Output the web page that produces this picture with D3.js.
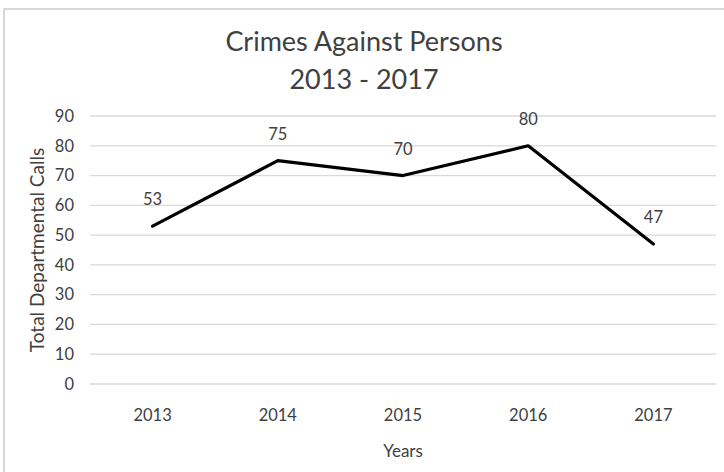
<!DOCTYPE html>
<html>
<head>
<meta charset="utf-8">
<script src="https://cdn.jsdelivr.net/npm/d3@7"></script>
<style>
  body { margin: 0; background: #fff; }
  svg { display: block; font-family: Lato, "Open Sans", sans-serif; }
</style>
</head>
<body>
<svg id="chart" width="724" height="472"></svg>
<script>
// chart data
var years = ["2013", "2014", "2015", "2016", "2017"];
var calls = [53, 75, 70, 80, 47];
var yTicks = [0, 10, 20, 30, 40, 50, 60, 70, 80, 90];
var titleLines = ["Crimes Against Persons", "2013 - 2017"];

var svg = d3.select("#chart");
// plot box (not "top": that name is taken by window.top)
var plotLeft = 90, plotRight = 716, plotTop = 116, plotBottom = 384;
var textColor = "#404040";

// outer frame (right and bottom run past the picture)
svg.append("rect")
  .attr("x", 4).attr("y", 9)
  .attr("width", 760).attr("height", 500)
  .attr("fill", "none")
  .attr("stroke", "#cfcfcf")
  .attr("stroke-width", 1.6);

var x = d3.scaleBand().domain(years).range([plotLeft, plotRight]);
var y = d3.scaleLinear().domain([0, 90]).range([plotBottom, plotTop]);

// gridlines
svg.append("g").selectAll("line")
  .data(yTicks)
  .enter().append("line")
  .attr("x1", plotLeft).attr("x2", plotRight)
  .attr("y1", function(d){ return y(d); })
  .attr("y2", function(d){ return y(d); })
  .attr("stroke", "#d9d9d9")
  .attr("stroke-width", 1.3);

// y axis labels
var yAxis = d3.axisLeft(y).tickValues(yTicks).tickSize(0).tickPadding(0);
var gy = svg.append("g").attr("transform", "translate(" + 74 + ",0)").call(yAxis);
gy.select(".domain").remove();
gy.selectAll("text")
  .attr("font-family", "Lato, sans-serif")
  .attr("font-size", 16.5)
  .attr("fill", textColor);

// x axis labels
var xAxis = d3.axisBottom(x).tickSize(0).tickPadding(0);
var gx = svg.append("g").attr("transform", "translate(0," + 409 + ")").call(xAxis);
gx.select(".domain").remove();
gx.selectAll("text")
  .attr("dy", "0.72em")
  .attr("font-family", "Lato, sans-serif")
  .attr("font-size", 16.5)
  .attr("fill", textColor);

// the line
var line = d3.line()
  .x(function(d, i){ return x(years[i]) + x.bandwidth() / 2; })
  .y(function(d){ return y(d); });

svg.append("path")
  .datum(calls)
  .attr("d", line)
  .attr("fill", "none")
  .attr("stroke", "#000")
  .attr("stroke-width", 3.2)
  .attr("stroke-linejoin", "round")
  .attr("stroke-linecap", "round");

// data labels
svg.append("g").selectAll("text")
  .data(calls)
  .enter().append("text")
  .attr("x", function(d, i){ return x(years[i]) + x.bandwidth() / 2; })
  .attr("y", function(d){ return y(d) - 21; })
  .attr("text-anchor", "middle")
  .attr("font-size", 16.5)
  .attr("fill", textColor)
  .text(function(d){ return d; });

// title
svg.append("g").selectAll("text")
  .data(titleLines)
  .enter().append("text")
  .attr("x", 364)
  .attr("y", function(d, i){ return 51 + i * 38; })
  .attr("text-anchor", "middle")
  .attr("font-size", 27)
  .attr("fill", textColor)
  .text(function(d){ return d; });

// axis titles
svg.append("text")
  .attr("x", 403).attr("y", 457)
  .attr("text-anchor", "middle")
  .attr("font-size", 17)
  .attr("fill", textColor)
  .text("Years");

svg.append("text")
  .attr("transform", "translate(44,250) rotate(-90)")
  .attr("text-anchor", "middle")
  .attr("font-size", 19)
  .attr("fill", textColor)
  .text("Total Departmental Calls");
</script>
</body>
</html>
